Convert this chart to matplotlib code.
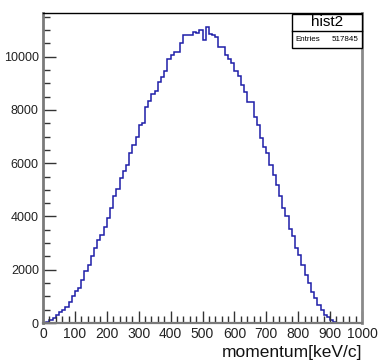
import numpy as np
import matplotlib
matplotlib.use("Agg")
import matplotlib.pyplot as plt
from matplotlib.ticker import MultipleLocator

plt.rcParams['font.family'] = ['Liberation Sans', 'DejaVu Sans']

# 100 bins of 10 keV/c from 0 to 1000
bin_edges = np.arange(0, 1001, 10)
counts = [
    10, 40, 120, 200, 300, 420, 500, 600, 780, 1000,
    1190, 1330, 1600, 1940, 2170, 2520, 2830, 3100, 3320, 3620,
    3930, 4300, 4760, 5050, 5440, 5720, 5950, 6400, 6700, 7000,
    7450, 7500, 8100, 8350, 8600, 8700, 9050, 9250, 9450, 9900,
    10050, 10180, 10180, 10500, 10800, 10810, 10830, 10935, 10875, 11000,
    10625, 11100, 10870, 10810, 10750, 10375, 10375, 10060, 9900, 9750,
    9470, 9275, 8935, 8685, 8290, 8290, 7725, 7435, 6935, 6620,
    6400, 5935, 5560, 5185, 4750, 4310, 4000, 3525, 3275, 2810,
    2560, 2185, 1810, 1500, 1150, 935, 685, 475, 310, 210,
    100, 30, 0, 0, 0, 0, 0, 0, 0, 0,
]
x_ticks = [0, 100, 200, 300, 400, 500, 600, 700, 800, 900, 1000]
y_ticks = [0, 2000, 4000, 6000, 8000, 10000]
hist_name = "hist2"
entries = 517845
x_title = "momentum[keV/c]"

W, H = 379, 360
fig = plt.figure(figsize=(W / 100, H / 100), dpi=100)
L, R, T, B = 43, 362, 13, 323
ax = fig.add_axes([L / W, 1 - B / H, (R - L) / W, (B - T) / H])

ax.stairs(counts, bin_edges, color='#1e1ea8', lw=1.1)

ax.set_xlim(0, 1000)
ax.set_ylim(0, 11640)
ax.set_xticks(x_ticks)
ax.set_yticks(y_ticks)
ax.xaxis.set_minor_locator(MultipleLocator(20))
ax.yaxis.set_minor_locator(MultipleLocator(500))
ax.tick_params(axis='both', which='both', direction='in', color='#333333')
ax.tick_params(axis='x', which='major', length=9, width=1, labelsize=10, pad=3)
ax.tick_params(axis='x', which='minor', length=5, width=1)
ax.tick_params(axis='y', which='major', length=9, width=1, labelsize=9, pad=3)
ax.tick_params(axis='y', which='minor', length=5, width=1)
for lab in ax.get_xticklabels() + ax.get_yticklabels():
    lab.set_color('#222222')

ax.spines['left'].set_color('#7a7a7a')
ax.spines['left'].set_linewidth(2)
ax.spines['bottom'].set_color('#7a7a7a')
ax.spines['bottom'].set_linewidth(1.6)
ax.spines['right'].set_color('#8a8a8a')
ax.spines['right'].set_linewidth(2)
ax.spines['top'].set_color('black')
ax.spines['top'].set_linewidth(1)

fig.text(R / W, 1 - 353 / H, x_title, ha='right', va='center', fontsize=12.5, color='#111111')

# stats box
bx0, bx1, by0, by1, bmid = 292, 362, 13.5, 48.3, 31
box = plt.Rectangle((bx0 / W, 1 - by1 / H), (bx1 - bx0) / W, (by1 - by0) / H,
                    transform=fig.transFigure, facecolor='white', edgecolor='black', lw=1, zorder=5)
fig.add_artist(box)
fig.add_artist(plt.Line2D([bx0 / W, bx1 / W], [1 - bmid / H, 1 - bmid / H],
                          transform=fig.transFigure, color='black', lw=1, zorder=6))
fig.text((bx0 + bx1) / 2 / W, 1 - 22 / H, hist_name, ha='center', va='center', fontsize=11, zorder=7)
fig.text((bx0 + 3) / W, 1 - 39.5 / H, "Entries", ha='left', va='center', fontsize=5.8, zorder=7)
fig.text((bx1 - 3.5) / W, 1 - 39.5 / H, f"{entries}", ha='right', va='center', fontsize=5.8, zorder=7)

fig.savefig("out.png", dpi=100, facecolor='white')
